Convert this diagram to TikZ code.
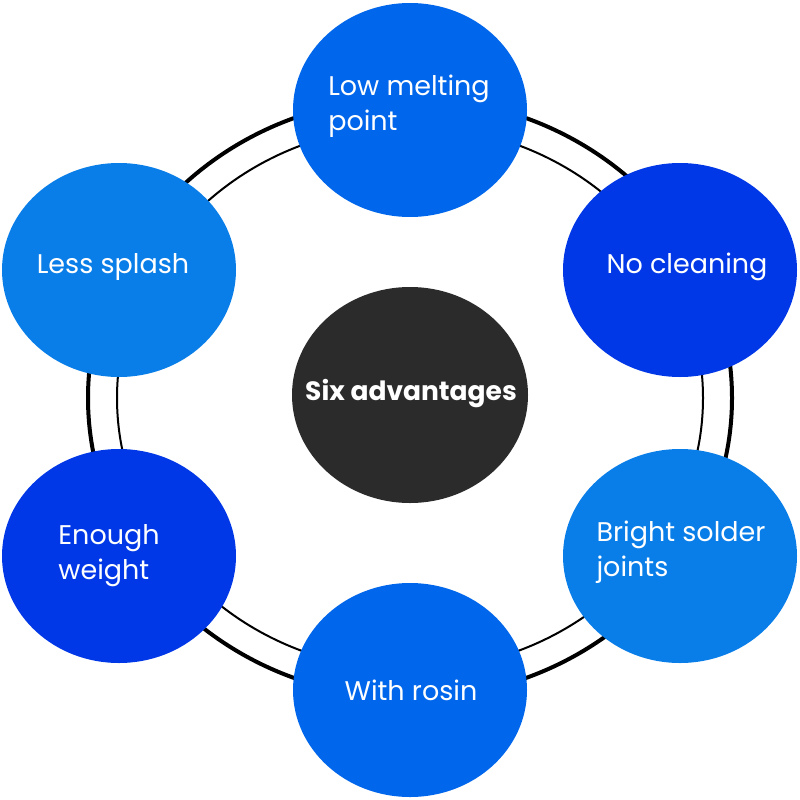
\documentclass[tikz,border=0pt]{standalone}
\usepackage{fontspec}
\setmainfont{Poppins}
\usetikzlibrary{shapes.geometric}
\definecolor{bmid}{RGB}{0,102,235}
\definecolor{blight}{RGB}{10,126,232}
\definecolor{bdeep}{RGB}{0,56,232}
\definecolor{cdark}{RGB}{43,43,43}
\tikzset{
  bubble/.style={ellipse, minimum width=234pt, minimum height=214pt, inner sep=0pt},
  lbl/.style={text=white, align=left, font=\fontsize{27}{35}\selectfont},
}
\begin{document}
\begin{tikzpicture}[x=1pt,y=-1pt]
\useasboundingbox[fill=white] (0,0) rectangle (800,800);
% ring
\draw[line width=4pt] (410,398) ellipse [x radius=322, y radius=300];
\draw[line width=2pt] (410,398) ellipse [x radius=293, y radius=272];
% bubbles
\node[bubble, fill=bmid]   (top) at (410,110) {};
\node[bubble, fill=blight] (ul)  at (119,270) {};
\node[bubble, fill=bdeep]  (ur)  at (680,270) {};
\node[bubble, fill=bdeep]  (ll)  at (119,556) {};
\node[bubble, fill=blight] (lr)  at (680,556) {};
\node[bubble, fill=bmid]   (bot) at (410,690) {};
\node[bubble, fill=cdark, minimum width=236pt, minimum height=216pt] (ctr) at (410,395) {};
% labels
\node[lbl] (ttop) at (409,106) {Low melting\\point};
\node[lbl] (tul)  at (113,267) {Less splash};
\node[lbl] (tur)  at (687,267) {No cleaning};
\node[lbl] (tll)  at (109,556) {Enough\\weight};
\node[lbl] (tlr)  at (681,552) {Bright solder\\joints};
\node[lbl] (tbot) at (411,690) {With rosin};
\node[text=white, font=\fontsize{26.5}{30}\selectfont\bfseries] (tctr) at (411,394) {Six advantages};
\end{tikzpicture}
\end{document}
